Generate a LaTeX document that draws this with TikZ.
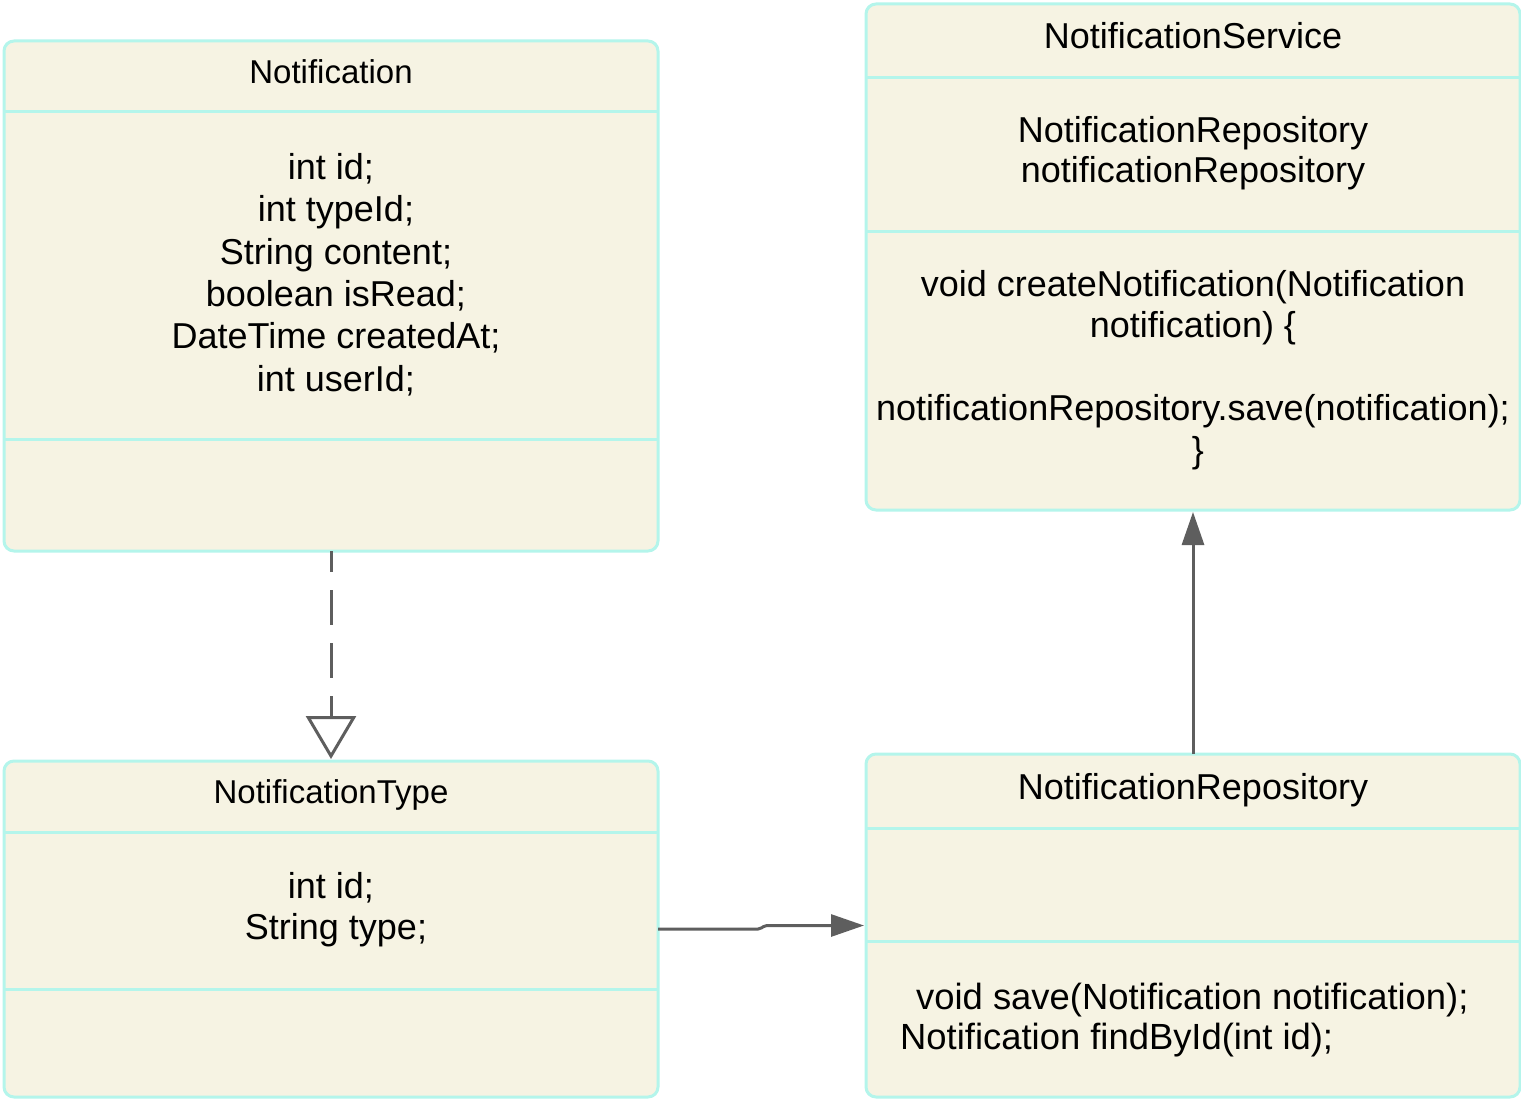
\documentclass[tikz,border=0pt]{standalone}
\usepackage{fontspec}
\setmainfont{Liberation Sans}
\usetikzlibrary{arrows.meta}
\definecolor{bordc}{RGB}{180,245,235}
\definecolor{fillc}{RGB}{246,243,227}
\definecolor{arrc}{RGB}{94,94,94}
\tikzset{
  umlbox/.style={draw=bordc, fill=fillc, line width=3pt, rounded corners=10pt,
    inner sep=0pt, outer sep=0pt, minimum width=654pt},
  divider/.style={draw=bordc, line width=3pt},
  bodytxt/.style={font=\fontsize{36}{41.5}\selectfont, align=center, inner sep=0pt, anchor=north},
  lefttitle/.style={font=\fontsize{33}{40}\selectfont, inner sep=0pt, anchor=base},
  righttitle/.style={font=\fontsize{36}{42}\selectfont, inner sep=0pt, anchor=base},
  conn/.style={draw=arrc, line width=3pt},
  solidhead/.style={-{Triangle[length=33pt, width=22pt]}, shorten >=2pt},
}
\newcommand{\lsp}{\hspace*{10pt}}
\begin{document}
\begin{tikzpicture}[x=1pt, y=-1pt]
\useasboundingbox (0,0) rectangle (1521,1099);

% boxes
\node[umlbox, minimum height=510pt] (notif) at (331,296) {};
\node[umlbox, minimum height=336pt] (ntype) at (331,929) {};
\node[umlbox, minimum height=506pt] (nserv) at (1193,257) {};
\node[umlbox, minimum height=343pt] (nrepo) at (1193,925.5) {};

% dividers
\draw[divider] (notif.west |- 0,112) -- (notif.east |- 0,112);
\draw[divider] (notif.west |- 0,439) -- (notif.east |- 0,439);
\draw[divider] (ntype.west |- 0,832) -- (ntype.east |- 0,832);
\draw[divider] (ntype.west |- 0,989) -- (ntype.east |- 0,989);
\draw[divider] (nserv.west |- 0,78) -- (nserv.east |- 0,78);
\draw[divider] (nserv.west |- 0,232) -- (nserv.east |- 0,232);
\draw[divider] (nrepo.west |- 0,828) -- (nrepo.east |- 0,828);
\draw[divider] (nrepo.west |- 0,941) -- (nrepo.east |- 0,941);

% titles
\node[lefttitle] (notifT) at (331,83.5) {Notification};
\node[lefttitle] (ntypeT) at (331,803.5) {NotificationType};
\node[righttitle] (nservT) at (1193,49) {NotificationService};
\node[righttitle] (nrepoT) at (1193,799) {NotificationRepository};

% bodies
\node[bodytxt, font=\fontsize{36}{42.4}\selectfont] (notifA) at (331,153)
  {int id;\\\lsp int typeId;\\\lsp String content;\\\lsp boolean isRead;\\\lsp DateTime createdAt;\\\lsp int userId;};
\node[bodytxt] (ntypeA) at (331,872) {int id;\\\lsp String type;};
\node[bodytxt, font=\fontsize{36}{40}\selectfont] (nservA) at (1193,116) {NotificationRepository\\notificationRepository};
\node[bodytxt] (nservM) at (1193,270) {void createNotification(Notification\\notification) \{\\[41.5pt]notificationRepository.save(notification);\\\lsp\}};
\node[bodytxt, align=left, anchor=north west, font=\fontsize{36.4}{39.5}\selectfont] (nrepoM) at (900,983)
  {\hspace*{16pt}void save(Notification notification);\\Notification findById(int id);};

% connectors
\draw[conn, dash pattern=on 35pt off 18pt, dash phase=14pt,
  -{Triangle[open, length=43pt, width=50pt, line width=3pt, fill=white]}, shorten >=2pt]
  (notif.south) -- (ntype.north);
\draw[conn, solidhead, rounded corners=2pt]
  (ntype.east) -- ++(102,0) -- ([xshift=-101pt]nrepo.west) -- (nrepo.west);
\draw[conn, solidhead] (nrepo.north) -- (nserv.south);
\end{tikzpicture}
\end{document}
